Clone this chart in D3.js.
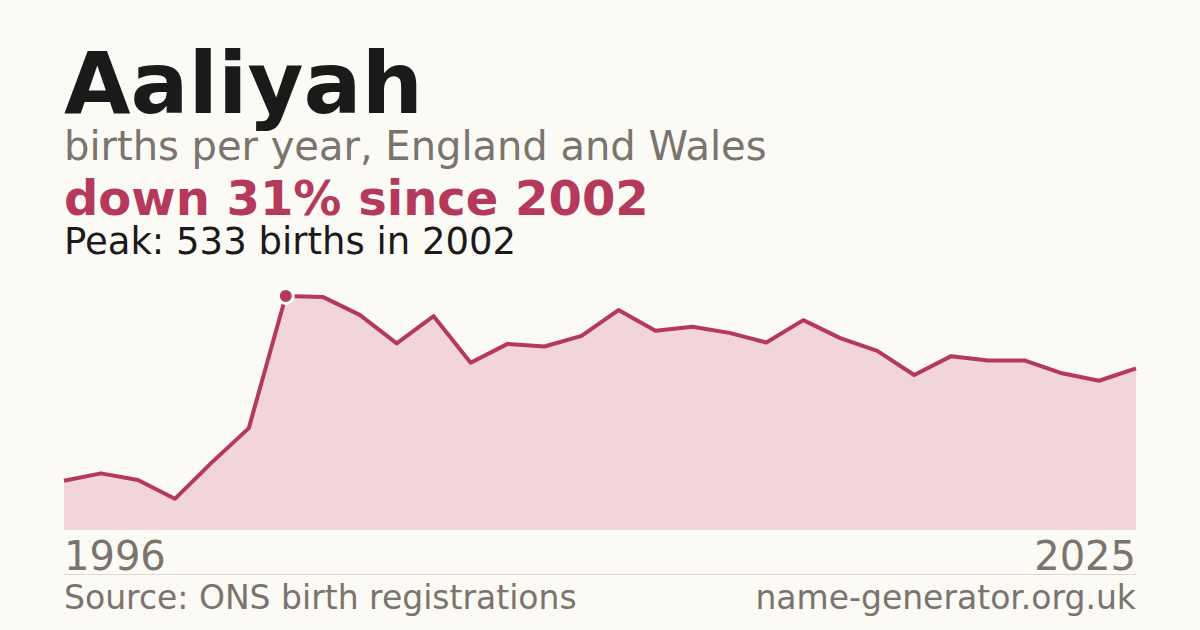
<!DOCTYPE html>
<html>
<head>
<meta charset="utf-8">
<script src="https://cdn.jsdelivr.net/npm/d3@7"></script>
<style>
  body { margin: 0; background: #fbfaf5; }
  svg { display: block; font-family: "DejaVu Sans", sans-serif; }
</style>
</head>
<body>
<div class="chart"></div>
<script>
var width = 1200, height = 630;

// births per year
var years = [1996, 1997, 1998, 1999, 2000, 2001, 2002, 2003, 2004, 2005,
             2006, 2007, 2008, 2009, 2010, 2011, 2012, 2013, 2014, 2015,
             2016, 2017, 2018, 2019, 2020, 2021, 2022, 2023, 2024, 2025];
var births = [112, 129, 114, 71, 154, 232, 533, 531, 490, 425,
              487, 381, 424, 418, 442, 501, 454, 463, 449, 427,
              478, 437, 408, 353, 396, 386, 386, 357, 340, 368];
var yearLabels = ["1996", "2025"];
var peakYear = 2002, peakValue = 533;

var data = years.map(function (y, i) { return { year: y, value: births[i] }; });

var plotLeft = 64, plotRight = 1136, plotTop = 296, plotBottom = 530;

var x = d3.scaleLinear().domain([years[0], years[years.length - 1]]).range([plotLeft, plotRight]);
var y = d3.scaleLinear().domain([0, peakValue]).range([plotBottom, plotTop]);

var svg = d3.select(".chart")
  .append("svg")
  .attr("width", width)
  .attr("height", height);

svg.append("rect")
  .attr("width", "100%")
  .attr("height", "100%")
  .attr("fill", "#fbfaf5");

// headings
svg.append("text")
  .attr("x", 64).attr("y", 113)
  .attr("font-size", 86).attr("font-weight", "bold")
  .attr("fill", "#1a1a1a")
  .text("Aaliyah");

svg.append("text")
  .attr("x", 64).attr("y", 160)
  .attr("font-size", 40)
  .attr("fill", "#7a746c")
  .text("births per year, England and Wales");

svg.append("text")
  .attr("x", 64).attr("y", 215)
  .attr("font-size", 48).attr("font-weight", "bold")
  .attr("fill", "#b5395a")
  .text("down 31% since 2002");

svg.append("text")
  .attr("x", 64).attr("y", 254)
  .attr("font-size", 37)
  .attr("fill", "#1a1a1a")
  .text("Peak: 533 births in 2002");

// area + line
var area = d3.area()
  .x(function (d) { return x(d.year); })
  .y0(plotBottom)
  .y1(function (d) { return y(d.value); });

var line = d3.line()
  .x(function (d) { return x(d.year); })
  .y(function (d) { return y(d.value); });

svg.append("path")
  .datum(data)
  .attr("d", area)
  .attr("fill", "#f2d5db");

svg.append("path")
  .datum(data)
  .attr("d", line)
  .attr("fill", "none")
  .attr("stroke", "#b5395a")
  .attr("stroke-width", 4)
  .attr("stroke-linejoin", "round");

svg.append("circle")
  .attr("cx", x(peakYear))
  .attr("cy", y(peakValue))
  .attr("r", 7.5)
  .attr("fill", "#b5395a")
  .attr("stroke", "#ffffff")
  .attr("stroke-width", 3);

// year labels
svg.append("text")
  .attr("x", x(years[0])).attr("y", 570)
  .attr("font-size", 40)
  .attr("fill", "#7a746c")
  .text(yearLabels[0]);

svg.append("text")
  .attr("x", x(years[years.length - 1])).attr("y", 570)
  .attr("font-size", 40)
  .attr("text-anchor", "end")
  .attr("fill", "#7a746c")
  .text(yearLabels[1]);

// footer
svg.append("line")
  .attr("x1", plotLeft).attr("x2", plotRight)
  .attr("y1", 574.5).attr("y2", 574.5)
  .attr("stroke", "#dcd9d3")
  .attr("stroke-width", 1);

svg.append("text")
  .attr("x", 64).attr("y", 609)
  .attr("font-size", 33)
  .attr("fill", "#7a746c")
  .text("Source: ONS birth registrations");

svg.append("text")
  .attr("x", 1136).attr("y", 609)
  .attr("font-size", 33)
  .attr("text-anchor", "end")
  .attr("fill", "#7a746c")
  .text("name-generator.org.uk");
</script>
</body>
</html>
